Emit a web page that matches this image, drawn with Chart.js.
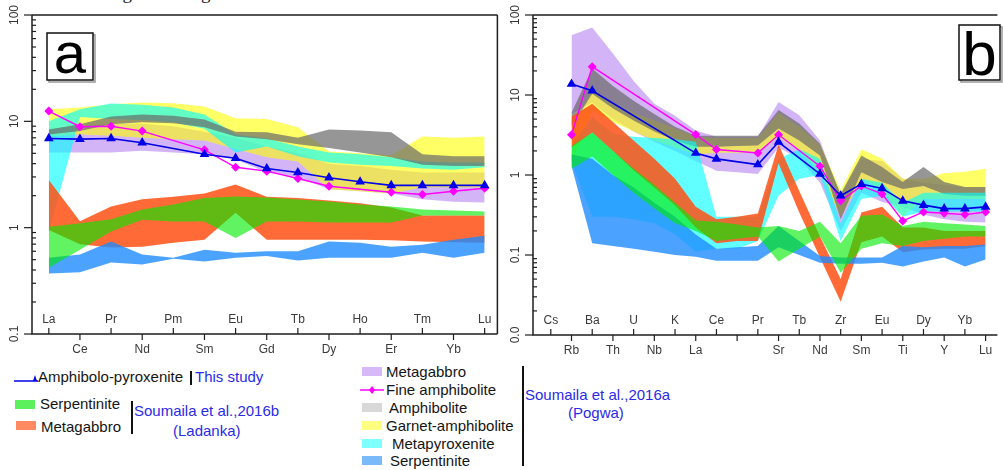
<!DOCTYPE html>
<html lang="en">
<head>
<meta charset="UTF-8">
<title>Chondrite and primitive mantle normalised patterns</title>
<script src="https://cdn.jsdelivr.net/npm/chart.js@4"></script>
<style>
  body { margin: 0; width: 1003px; height: 470px; background: #fff; overflow: hidden; position: relative;
         font-family: "Liberation Sans", Arial, sans-serif; }
  canvas { position: absolute; top: 0; }
  #chartA { left: 0; }
  #chartB { left: 500px; }
  .lg { position: absolute; font-size: 15px; line-height: 16px; color: #151515; white-space: nowrap; }
  .ref { color: #2b2be6; }
  .sw { position: absolute; width: 20px; height: 9px; }
  .bar { position: absolute; width: 1.5px; background: #111; }
  .cut { position: absolute; left: 8px; top: -17px; font: 19px/20px "Liberation Serif", serif; color: #222; white-space: nowrap; }
</style>
</head>
<body>
<div class="cut">ation of the magmatism ages of these rocks.</div>

<canvas id="chartA" width="503" height="362"></canvas>
<canvas id="chartB" width="503" height="362"></canvas>

<!-- Legend -->
<svg style="position:absolute;left:12px;top:372px" width="28" height="12">
  <line x1="2" y1="9" x2="26" y2="9" stroke="#0000e6" stroke-width="1.5"/>
  <polygon points="21,9 25,9 23,3" fill="#0000e6"/>
</svg>
<div class="lg" style="left:38px;top:369px">Amphibolo-pyroxenite</div>
<div class="bar" style="left:190px;top:371px;height:14px;width:2px"></div>
<div class="lg ref" style="left:195px;top:369px">This study</div>

<div class="sw" style="left:15px;top:400px;background:#5cf05c"></div>
<div class="lg" style="left:40px;top:396px">Serpentinite</div>
<div class="sw" style="left:16px;top:421px;background:#ff8a62"></div>
<div class="lg" style="left:41px;top:419px">Metagabbro</div>
<div class="bar" style="left:131px;top:401px;height:33px"></div>
<div class="lg ref" style="left:134px;top:403px">Soumaila et al.,2016b</div>
<div class="lg ref" style="left:173px;top:423px">(Ladanka)</div>

<div class="sw" style="left:362px;top:367px;background:#d7b9fa"></div>
<div class="lg" style="left:386px;top:364px">Metagabbro</div>
<svg style="position:absolute;left:358px;top:384px" width="28" height="12">
  <line x1="2" y1="6" x2="26" y2="6" stroke="#ff00ff" stroke-width="1.5"/>
  <polygon points="14,2 17,6 14,10 11,6" fill="#ff00ff"/>
</svg>
<div class="lg" style="left:386px;top:382px">Fine amphibolite</div>
<div class="sw" style="left:362px;top:403px;background:#d8d8d8"></div>
<div class="lg" style="left:389px;top:400px">Amphibolite</div>
<div class="sw" style="left:362px;top:421px;background:#ffff80"></div>
<div class="lg" style="left:386px;top:418px">Garnet-amphibolite</div>
<div class="sw" style="left:362px;top:439px;background:#80ffff"></div>
<div class="lg" style="left:392px;top:436px">Metapyroxenite</div>
<div class="sw" style="left:362px;top:456px;background:#7ab9fa"></div>
<div class="lg" style="left:390px;top:453px">Serpentinite</div>
<div class="bar" style="left:522px;top:366px;height:100px"></div>
<div class="lg ref" style="left:525px;top:387px">Soumaila et al.,2016a</div>
<div class="lg ref" style="left:568px;top:405px">(Pogwa)</div>

<script>
// ---- categories and tick labels ----
const catA = ['La','Ce','Pr','Nd','Pm','Sm','Eu','Gd','Tb','Dy','Ho','Er','Tm','Yb','Lu'];
const catB = ['Cs','Rb','Ba','Th','U','Nb','K','La','Ce','','Pr','Sr','Tb','Nd','Zr','Sm','Eu','Ti','Dy','Y','Yb','Lu'];
const yTicksA = ['0.1','1','10','100'];
const yTicksB = ['0.0','0.1','1','10','100'];

// ---- panel a (REE) ----
const amphPyxA  = [6.9, 6.8, 6.9, 6.3, null, 4.9, 4.5, 3.6, 3.3, 2.95, 2.7, 2.5, 2.5, 2.5, 2.5];
const fineAmphA = [12.5, 8.9, 9.0, 8.1, null, 5.4, 3.7, 3.4, 2.9, 2.45, null, 2.15, 2.05, 2.2, 2.35];

const metagabbroA_hi = [8.5, 9, 9.5, 9.5, 9.0, 8.0, 7.0, 5.8, 5.0, 4.0, 3.8, 3.5, 3.3, 3.3, 3.3];
const metagabbroA_lo = [5.1, 5.1, 5.1, 5.3, 5.1, 4.9, 4.4, 3.3, 3.0, 2.3, 2.2, 2.1, 1.85, 1.75, 1.72];
const garnetA_hi = [13, 13.5, 14.5, 15, 14.8, 13.8, 10.7, 10.5, 8.8, 5.2, 5.0, 4.8, 7.2, 7.0, 7.2];
const garnetA_lo = [7.2, 7.5, 7.3, 7.0, 6.8, 6.6, 5.5, 4.6, 4.2, 2.3, 2.2, 2.1, 2.4, 2.4, 2.4];
const metapyxA_hi = [10, 13, 14.7, 14.3, 13.5, 11.6, 7.5, 6.9, 5.8, 5.1, 4.9, 4.6, 4.2, 4.1, 4.1];
const metapyxA_lo = [0.9, 11, 10.5, 10.3, 9.8, 8.5, 5.1, 5.8, 4.7, 4.1, 3.9, 3.8, 3.6, 3.5, 3.7];
const amphiboliteA_hi = [8.4, 9.4, 11.1, 11.6, 11.3, 10.4, 8.0, 7.9, 7.0, 8.4, 8.2, 7.9, 4.9, 4.7, 4.7];
const amphiboliteA_lo = [7.5, 8.1, 9.4, 9.8, 9.6, 8.8, 7.2, 6.8, 6.1, 5.6, 5.1, 4.6, 3.9, 3.8, 3.8];
const ladMetagabA_hi = [2.8, 1.15, 1.58, 1.85, 1.95, 2.1, 2.55, 1.95, 1.9, 1.8, 1.7, 1.55, 1.3, 1.3, 1.3];
const ladMetagabA_lo = [0.95, 0.7, 0.65, 0.66, 0.72, 0.77, 1.38, 0.77, 0.77, 0.77, 0.77, 0.76, 0.74, 0.73, 0.72];
const pogSerpA_hi = [0.52, 0.56, 0.74, 0.56, 0.52, 0.62, 0.58, 0.6, 0.6, 0.74, 0.72, 0.66, 0.69, 0.77, 0.84];
const pogSerpA_lo = [0.37, 0.38, 0.47, 0.45, 0.51, 0.48, 0.52, 0.54, 0.49, 0.52, 0.52, 0.52, 0.58, 0.52, 0.58];
const ladSerpA_hi = [1.02, 1.1, 1.2, 1.48, 1.65, 1.9, 1.96, 1.92, 1.84, 1.76, 1.65, 1.58, 1.48, 1.45, 1.42];
const ladSerpA_lo = [0.42, 0.62, 0.92, 1.19, 1.14, 1.14, 0.8, 1.14, 1.14, 1.12, 1.12, 1.12, 1.3, 1.3, 1.3];

// ---- panel b (trace elements) ----
const amphPyxB  = [null, 13.7, 11.3, null, null, null, null, 1.88, 1.59, null, 1.35, 2.58, null, 1.03, 0.55, 0.77, 0.68, 0.475, 0.42, 0.38, 0.38, 0.4];
const fineAmphB = [null, 3.18, 22.6, null, null, null, null, 3.2, 2.08, null, 1.88, 3.18, null, 1.29, 0.475, 0.73, 0.58, 0.266, 0.345, 0.333, 0.32, 0.345];

const metagabbroB_hi = [null, 56, 70, 33, 15, 7.8, 5.5, 3.6, 3.0, 3.0, 3.0, 8.2, 5.6, 2.7, 0.55, 1.6, 1.5, 0.9, 0.8, 0.75, 0.7, 0.7];
const metagabbroB_lo = [null, 5.8, 8, 5, 3.5, 2.6, 2.0, 1.5, 1.13, 1.08, 1.03, 2.2, 1.6, 0.8, 0.2, 0.6, 0.46, 0.4, 0.32, 0.28, 0.26, 0.255];
const garnetB_hi = [null, 3.5, 12, 8, 6, 4.8, 3.8, 3.0, 2.9, 2.9, 2.9, 6.0, 4.0, 2.4, 0.65, 2.1, 1.6, 0.9, 0.9, 1.05, 1.1, 1.2];
const garnetB_lo = [null, 1.4, 6.4, 4.6, 3.5, 2.7, 2.2, 1.8, 1.9, 1.9, 1.9, 3.0, 2.0, 1.1, 0.3, 0.9, 0.65, 0.3, 0.5, 0.5, 0.5, 0.5];
const metapyxB_hi = [null, 2.3, 5.3, 3.3, 3.0, 2.9, 2.8, 2.6, 0.3, 0.3, 0.3, 1.6, 2.1, 1.6, 0.25, 0.9, 0.8, 0.45, 0.6, 0.6, 0.6, 0.6];
const metapyxB_lo = [null, 1.5, 0.3, 0.3, 0.28, 0.25, 0.18, 0.11, 0.12, 0.12, 0.15, 0.55, 0.9, 1.0, 0.15, 0.5, 0.55, 0.3, 0.35, 0.35, 0.35, 0.35];
const amphiboliteB_hi = [null, 6, 21.5, 13, 8.5, 5.8, 4.0, 3.1, 3.1, 3.1, 3.1, 6.5, 4.4, 2.45, 0.58, 1.75, 1.26, 0.82, 1.26, 0.82, 0.71, 0.71];
const amphiboliteB_lo = [null, 4, 10.4, 6.8, 4.8, 3.5, 2.7, 2.25, 2.25, 2.3, 2.33, 3.8, 2.7, 1.75, 0.28, 1.08, 0.82, 0.67, 0.73, 0.58, 0.55, 0.55];
const ladMetagabB_hi = [null, 5.4, 7.8, 4.6, 2.7, 1.6, 0.9, 0.4, 0.28, 0.3, 0.33, 2.4, 0.63, 0.17, 0.05, 0.34, 0.4, 0.22, 0.22, 0.2, 0.2, 0.2];
const ladMetagabB_lo = [null, 2.2, 3.4, 2.0, 1.15, 0.7, 0.42, 0.22, 0.14, 0.15, 0.15, 1.4, 0.34, 0.093, 0.026, 0.144, 0.17, 0.108, 0.117, 0.12, 0.12, 0.13];
const pogSerpB_hi = [null, 1.8, 1.6, 1.0, 0.7, 0.45, 0.3, 0.18, 0.12, 0.125, 0.13, 0.23, 0.15, 0.097, 0.093, 0.093, 0.093, 0.13, 0.125, 0.13, 0.13, 0.135];
const pogSerpB_lo = [null, 1.3, 0.14, 0.13, 0.12, 0.11, 0.1, 0.095, 0.085, 0.085, 0.085, 0.125, 0.1, 0.08, 0.078, 0.078, 0.08, 0.072, 0.083, 0.093, 0.072, 0.088];
const ladSerpB_hi = [null, 2.3, 3.4, 2.0, 1.2, 0.75, 0.45, 0.27, 0.26, 0.24, 0.22, 0.23, 0.2, 0.26, 0.14, 0.31, 0.32, 0.23, 0.26, 0.25, 0.24, 0.23];
const ladSerpB_lo = [null, 1.2, 1.7, 1.0, 0.6, 0.38, 0.25, 0.2, 0.15, 0.16, 0.17, 0.083, 0.12, 0.17, 0.06, 0.12, 0.14, 0.13, 0.15, 0.16, 0.17, 0.17];

// colours
const cPurple = 'rgba(175,120,240,0.55)';
const cYellow = 'rgba(255,255,0,0.6)';
const cCyan   = 'rgba(0,255,255,0.62)';
const cGrey   = 'rgba(105,105,105,0.7)';
const cOrange = 'rgba(255,80,20,0.85)';
const cBlue   = 'rgba(30,140,255,0.8)';
const cGreen  = 'rgba(0,235,0,0.62)';

const pts = arr => arr.map((v, i) => ({x: i, y: v}));

function band(hi, lo, color, order) {
  return [
    {data: pts(hi), fill: '+1', backgroundColor: color, borderWidth: 0, pointRadius: 0, order: order},
    {data: pts(lo), fill: false, borderWidth: 0, pointRadius: 0, order: order}
  ];
}

function lines(pyx, fine) {
  return [
    {data: pts(pyx), borderColor: '#0000e6', backgroundColor: '#0000e6', borderWidth: 1.6,
     pointStyle: 'triangle', pointRadius: 4, fill: false, spanGaps: true, order: 0},
    {data: pts(fine), borderColor: '#ff00ff', backgroundColor: '#ff00ff', borderWidth: 1.4,
     pointStyle: 'rectRot', pointRadius: 3.5, fill: false, spanGaps: true, order: 1}
  ];
}

// axes, ticks, labels and the panel letter
const frame = {
  id: 'frame',
  afterDraw(chart, args, o) {
    const {ctx, chartArea: a, scales: {x, y}} = chart;
    ctx.save();
    ctx.strokeStyle = '#1e1e1e';
    ctx.lineWidth = 1.5;
    ctx.beginPath();
    ctx.moveTo(a.left, a.top); ctx.lineTo(a.left, a.bottom); ctx.lineTo(a.right, a.bottom);
    ctx.moveTo(a.left, a.top); ctx.lineTo(a.right, a.top);
    if (o.rightBorder) { ctx.moveTo(a.right, a.top); ctx.lineTo(a.right, a.bottom); }
    ctx.stroke();

    // y ticks: decades outside with rotated labels, minor ticks inside
    ctx.lineWidth = 1.2;
    ctx.fillStyle = '#333';
    ctx.font = '12px "Liberation Sans", Arial, sans-serif';
    ctx.textAlign = 'center';
    ctx.textBaseline = 'middle';
    const e0 = Math.round(Math.log10(y.min)), e1 = Math.round(Math.log10(y.max));
    for (let e = e0; e <= e1; e++) {
      const p = y.getPixelForValue(Math.pow(10, e));
      ctx.beginPath(); ctx.moveTo(a.left - 8, p); ctx.lineTo(a.left, p); ctx.stroke();
      ctx.save();
      ctx.translate(a.left - 17, p);
      ctx.rotate(-Math.PI / 2);
      ctx.fillText(o.yLabels[e - e0], 0, 0);
      ctx.restore();
      if (e < e1) {
        for (let m = 2; m <= 9; m++) {
          const q = y.getPixelForValue(m * Math.pow(10, e));
          ctx.beginPath(); ctx.moveTo(a.left, q); ctx.lineTo(a.left + 4, q); ctx.stroke();
        }
      }
    }

    // x ticks, alternating inside / outside
    ctx.fillStyle = '#3a3a3a';
    o.xLabels.forEach((lab, i) => {
      const p = x.getPixelForValue(i);
      ctx.beginPath();
      if (i % 2 === 0) {
        ctx.moveTo(p, a.bottom); ctx.lineTo(p, a.bottom - 6); ctx.stroke();
        ctx.fillText(lab, p, a.bottom - 14);
      } else {
        ctx.moveTo(p, a.bottom); ctx.lineTo(p, a.bottom + 6); ctx.stroke();
        ctx.fillText(lab, p, a.bottom + 16);
      }
    });

    // panel letter
    const L = o.letter;
    ctx.strokeStyle = '#999';
    ctx.lineWidth = 1.5;
    ctx.strokeRect(L.x + 2, L.y + 2, L.w, L.h);
    ctx.fillStyle = '#fff';
    ctx.fillRect(L.x, L.y, L.w, L.h);
    ctx.strokeStyle = '#111';
    ctx.strokeRect(L.x, L.y, L.w, L.h);
    ctx.fillStyle = '#000';
    ctx.font = L.size + 'px "Liberation Sans", Arial, sans-serif';
    ctx.textBaseline = 'alphabetic';
    ctx.fillText(L.text, L.x + L.w / 2, L.base);
    ctx.restore();
  }
};

function makeChart(id, datasets, xMin, xMax, yMin, yMax, pad, frameOpts) {
  return new Chart(document.getElementById(id), {
    type: 'line',
    data: {datasets: datasets},
    options: {
      responsive: false,
      animation: false,
      devicePixelRatio: 1,
      layout: {padding: pad},
      elements: {line: {tension: 0}},
      plugins: {legend: {display: false}, tooltip: {enabled: false}, frame: frameOpts},
      scales: {
        x: {type: 'linear', min: xMin, max: xMax, display: false},
        y: {type: 'logarithmic', min: yMin, max: yMax, display: false}
      }
    },
    plugins: [frame]
  });
}

// higher order = drawn further back
const dsA = [].concat(
  lines(amphPyxA, fineAmphA),
  band(ladSerpA_hi, ladSerpA_lo, cGreen, 2),
  band(pogSerpA_hi, pogSerpA_lo, cBlue, 3),
  band(ladMetagabA_hi, ladMetagabA_lo, cOrange, 4),
  band(amphiboliteA_hi, amphiboliteA_lo, cGrey, 5),
  band(metapyxA_hi, metapyxA_lo, cCyan, 6),
  band(garnetA_hi, garnetA_lo, cYellow, 7),
  band(metagabbroA_hi, metagabbroA_lo, cPurple, 8)
);

const dsB = [].concat(
  lines(amphPyxB, fineAmphB),
  band(ladSerpB_hi, ladSerpB_lo, cGreen, 2),
  band(pogSerpB_hi, pogSerpB_lo, cBlue, 3),
  band(ladMetagabB_hi, ladMetagabB_lo, cOrange, 4),
  band(metapyxB_hi, metapyxB_lo, cCyan, 5),
  band(amphiboliteB_hi, amphiboliteB_lo, cGrey, 6),
  band(garnetB_hi, garnetB_lo, cYellow, 7),
  band(metagabbroB_hi, metagabbroB_lo, cPurple, 8)
);

makeChart('chartA', dsA, -0.54, 14.41, 0.1, 100,
  {left: 32, top: 15, right: 2, bottom: 28},
  {xLabels: catA, yLabels: yTicksA, rightBorder: true,
   letter: {text: 'a', x: 47, y: 33, w: 46, h: 47, size: 58, base: 73}});

makeChart('chartB', dsB, -0.86, 21.57, 0.01, 100,
  {left: 33, top: 15, right: 0, bottom: 27},
  {xLabels: catB, yLabels: yTicksB, rightBorder: false,
   letter: {text: 'b', x: 459, y: 25, w: 41, h: 55, size: 62, base: 75}});
</script>
</body>
</html>
